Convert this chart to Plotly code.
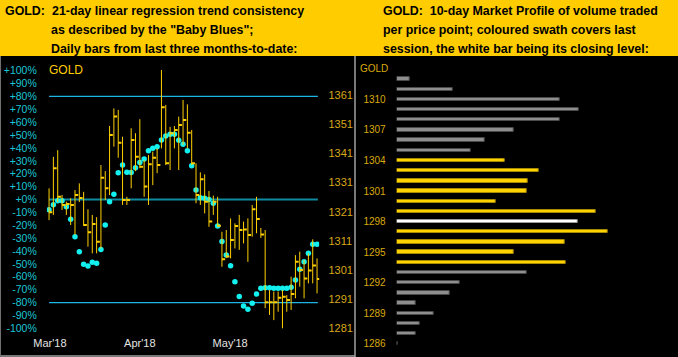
import plotly.graph_objects as go

W, H = 678, 357

# ---------------- left panel data ----------------
MONTH_LABELS = ["Mar'18", "Apr'18", "May'18"]
MONTH_POS = [0.2, 21.0, 41.9]

HIGH = [1329.0, 1339.8, 1342.1, 1326.7, 1324.4, 1325.6, 1328.4, 1330.7, 1327.8, 1321.8,
        1319.9, 1319.1, 1337.0, 1334.9, 1350.4, 1356.4, 1355.9, 1346.7, 1326.1, 1349.6,
        1347.9, 1352.7, 1338.7, 1340.4, 1341.6, 1342.7, 1369.6, 1357.6, 1350.1, 1350.4,
        1353.6, 1359.3, 1357.8, 1349.0, 1337.6, 1334.5, 1333.8, 1328.1, 1326.5, 1326.1,
        1314.1, 1314.7, 1318.7, 1317.0, 1319.9, 1317.6, 1318.7, 1323.3, 1326.1, 1315.4,
        1314.7, 1294.1, 1293.6, 1293.6, 1294.1, 1292.4, 1298.7, 1306.1, 1307.3, 1304.4,
        1306.7, 1311.5, 1305.0]
LOW = [1318.1, 1319.9, 1324.3, 1321.6, 1319.9, 1316.4, 1313.0, 1324.3, 1316.1, 1309.0,
       1306.7, 1306.7, 1308.4, 1325.0, 1326.7, 1343.3, 1339.5, 1323.3, 1323.3, 1329.0,
       1334.9, 1335.9, 1326.1, 1323.3, 1330.1, 1334.2, 1342.7, 1337.0, 1335.3, 1342.7,
       1335.3, 1343.9, 1342.7, 1337.0, 1323.9, 1323.3, 1320.4, 1315.8, 1319.9, 1315.8,
       1302.1, 1305.1, 1305.0, 1308.4, 1307.9, 1310.1, 1303.8, 1312.4, 1313.6, 1312.0,
       1287.9, 1285.6, 1283.8, 1286.7, 1281.0, 1286.7, 1287.3, 1291.3, 1295.3, 1291.3,
       1296.4, 1296.4, 1293.0]
CLOSE = [1320.8, 1335.9, 1326.1, 1323.3, 1323.6, 1323.3, 1326.7, 1325.7, 1316.4, 1313.9,
         1316.8, 1310.7, 1332.6, 1329.0, 1347.3, 1353.6, 1344.6, 1325.0, 1325.0, 1345.6,
         1339.8, 1336.4, 1329.6, 1337.3, 1339.5, 1337.0, 1356.8, 1337.6, 1347.9, 1349.0,
         1350.7, 1352.4, 1348.1, 1337.6, 1326.7, 1332.1, 1324.4, 1317.6, 1324.4, 1316.2,
         1304.7, 1305.6, 1311.3, 1316.1, 1314.7, 1314.9, 1313.0, 1321.8, 1318.5, 1313.2,
         1289.9, 1289.9, 1289.9, 1291.5, 1291.8, 1290.7, 1292.8, 1303.8, 1301.0, 1298.1,
         1300.8, 1302.5, 1297.9]
BABY_BLUES = [-8, -4, -1, -1, -5.6, -15.4, -28.9, -40.5, -50.3, -51.6,
              -48.8, -49.5, -38.9, -19.8, -1.7, 4, 20.8, 26.8, 21.1, 21,
              24.7, 28.7, 31.4, 37.9, 39.8, 41, 46.2, 49.3, 50.6, 50.6,
              46, 42.8, 37.9, 26.3, 7.4, 1.4, 1, 0, -3, -20.6,
              -32.7, -43, -51.4, -63.8, -75.4, -82.7, -85.2, -80.6, -73.4, -68.9,
              -68.5, -68.5, -69, -69, -69, -69, -68.2, -62.5, -54.2, -48.3,
              -41.8, -34.8, -34.8]
PCT_TICKS = list(range(-100, 101, 10))
PRICE_TICKS = list(range(1281, 1362, 10))
TREND_LEVELS = [80, 0, -80]

# ---------------- right panel data ----------------
PROFILE_PRICES = list(range(1312, 1285, -1))
PROFILE_VOLUMES = [13.3, 56, 162.7, 182, 163.3, 117, 88.3, 74, 108.3, 142.3, 131, 130.3, 99,
                   198.7, 180.7, 210.7, 168, 117, 169.3, 130.3, 63, 53, 18.7, 37.3, 23, 18.7, 1]
SESSION_LOW, SESSION_HIGH, SESSION_CLOSE = 1294, 1304, 1298
PROFILE_TICKS = list(range(1286, 1311, 3))

FONT = "Liberation Sans, Arial, sans-serif"
GOLD = "#FFD000"


def fx(p):
    return p / W


def fy(p):
    return 1 - p / H


fig = go.Figure()

n = len(HIGH)
bx, by = [], []
tx, ty = [], []
for i in range(n):
    bx += [i, i, None]
    by += [HIGH[i], LOW[i], None]
    tx += [i, i + 0.75, None]
    ty += [CLOSE[i], CLOSE[i], None]

fig.add_trace(go.Scatter(x=bx, y=by, mode="lines", yaxis="y2", xaxis="x",
                         line=dict(color=GOLD, width=1), hoverinfo="skip"))
fig.add_trace(go.Scatter(x=tx, y=ty, mode="lines", yaxis="y2", xaxis="x",
                         line=dict(color=GOLD, width=2), hoverinfo="skip"))
fig.add_trace(go.Scatter(x=list(range(n)), y=BABY_BLUES, mode="markers", yaxis="y", xaxis="x",
                         marker=dict(color="#12F0F0", size=5.5, line=dict(width=0)),
                         hoverinfo="skip"))

bar_colors, edge_colors = [], []
for p in PROFILE_PRICES:
    if p == SESSION_CLOSE:
        bar_colors.append("#FFFFFF"); edge_colors.append("#9A9A9A")
    elif SESSION_LOW <= p <= SESSION_HIGH:
        bar_colors.append("#FFD200"); edge_colors.append("#A88A00")
    else:
        bar_colors.append("#8E8E8E"); edge_colors.append("#4A4A4A")
fig.add_trace(go.Bar(x=PROFILE_VOLUMES, y=PROFILE_PRICES, orientation="h",
                     xaxis="x3", yaxis="y3", width=0.33,
                     marker=dict(color=bar_colors, line=dict(color=edge_colors, width=1)),
                     hoverinfo="skip"))

pct_text = [("+%d%%" % v) if v >= 0 else ("%d%%" % v) for v in PCT_TICKS]

shapes = [
    dict(type="rect", xref="paper", yref="paper", x0=0, x1=1, y0=fy(56), y1=1,
         fillcolor="#FFCC00", line=dict(width=0), layer="below"),
    dict(type="line", xref="paper", yref="paper", x0=fx(355), x1=fx(355), y0=fy(357), y1=fy(56),
         line=dict(color="#A0A0A0", width=1.5)),
    dict(type="line", xref="paper", yref="paper", x0=0, x1=fx(355), y0=fy(356), y1=fy(356),
         line=dict(color="#A0A0A0", width=1.5)),
    dict(type="line", xref="paper", yref="paper", x0=fx(0.5), x1=fx(0.5), y0=fy(357), y1=fy(56),
         line=dict(color="#707070", width=1)),
]
for lv in TREND_LEVELS:
    shapes.append(dict(type="line", xref="x domain", yref="y", x0=0.008, x1=0.995, y0=lv, y1=lv,
                       line=dict(color="#0F8CA2" if lv == 0 else "#1EB4E6",
                                 width=2 if lv == 0 else 1.2),
                       layer="below"))

hdr_font = dict(family=FONT, size=12.4, color="#000000")
annotations = [
    dict(text="<b>GOLD:</b>", x=fx(3), y=fy(10.5)),
    dict(text="<b>21-day linear regression trend consistency</b>", x=fx(50), y=fy(10.5)),
    dict(text="<b>as described by the \"Baby Blues\";</b>", x=fx(48.5), y=fy(29.5)),
    dict(text="<b>Daily bars from last three months-to-date:</b>", x=fx(48.5), y=fy(48.8)),
    dict(text="<b>GOLD:\u00a0\u00a010-day Market Profile of volume traded</b>", x=fx(381), y=fy(10.5)),
    dict(text="<b>per price point; coloured swath covers last</b>", x=fx(381), y=fy(29.5)),
    dict(text="<b>session, the white bar being its closing level:</b>", x=fx(381), y=fy(48.8)),
]
for a in annotations:
    a.update(xref="paper", yref="paper", xanchor="left", yanchor="middle",
             showarrow=False, font=hdr_font)
annotations += [
    dict(text="GOLD", x=fx(47), y=fy(70.5), xref="paper", yref="paper", xanchor="left",
         yanchor="middle", showarrow=False, font=dict(family=FONT, size=12, color="#FFCC00")),
    dict(text="GOLD", x=fx(358), y=fy(68.5), xref="paper", yref="paper", xanchor="left",
         yanchor="middle", showarrow=False, font=dict(family=FONT, size=10, color="#D9A90C")),
]

fig.update_layout(
    width=W, height=H, margin=dict(l=0, r=0, t=0, b=0),
    paper_bgcolor="#000000", plot_bgcolor="#000000",
    showlegend=False, hovermode=False, bargap=0,
    shapes=shapes, annotations=annotations,
    xaxis=dict(domain=[fx(46.9), fx(319.2)], range=[-0.5, n - 0.5], anchor="y",
               tickvals=MONTH_POS, ticktext=MONTH_LABELS, ticks="outside", ticklen=3,
               tickcolor="rgba(0,0,0,0)",
               tickfont=dict(family=FONT, size=11, color="#E4E4E4"),
               showgrid=False, zeroline=False, showline=False, automargin=False),
    yaxis=dict(domain=[fy(330), fy(58)], range=[-101.32, 109.86], side="left", anchor="x",
               tickvals=PCT_TICKS, ticktext=pct_text, ticks="outside", ticklen=7,
               tickcolor="rgba(0,0,0,0)",
               tickfont=dict(family=FONT, size=10.5, color="#1CC6D6"),
               showgrid=False, zeroline=False, showline=False, automargin=False),
    yaxis2=dict(overlaying="y", side="right", anchor="x", range=[1280.42, 1373.7],
                tickvals=PRICE_TICKS, ticktext=[str(v) for v in PRICE_TICKS],
                ticks="outside", ticklen=6, tickcolor="rgba(0,0,0,0)",
                tickfont=dict(family=FONT, size=11, color="#D8A81A"),
                showgrid=False, zeroline=False, showline=False, automargin=False),
    xaxis3=dict(domain=[fx(396.7), fx(676)], range=[0, 279.3], anchor="y3", visible=False),
    yaxis3=dict(domain=[fy(354), fy(60)], range=[1284.99, 1313.87], anchor="x3",
                tickvals=PROFILE_TICKS, ticktext=[str(v) for v in PROFILE_TICKS],
                ticks="outside", ticklen=8, tickcolor="rgba(0,0,0,0)",
                tickfont=dict(family=FONT, size=10, color="#D9A90C"),
                showgrid=False, zeroline=False, showline=False, automargin=False),
)

fig.write_html("out.html", config={"displayModeBar": False},
               post_script="document.body.style.margin='0';document.body.style.overflow='hidden';document.body.style.background='#000';")
